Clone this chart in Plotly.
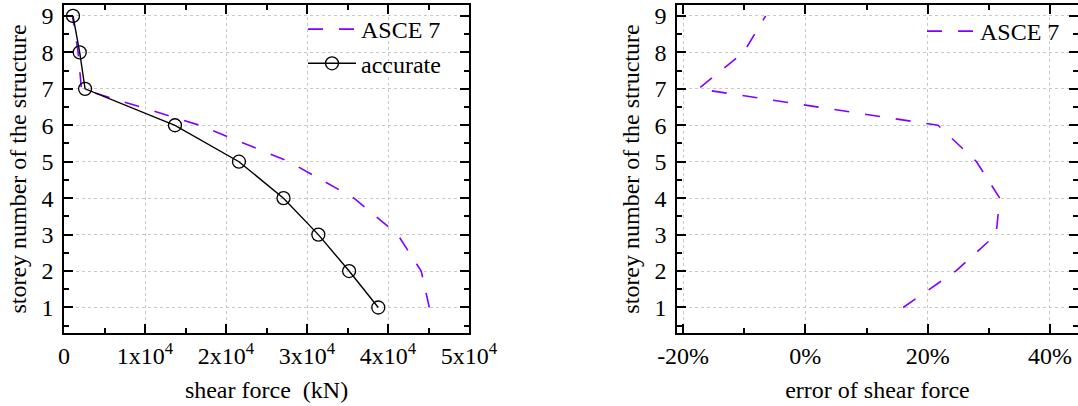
import plotly.graph_objects as go

# ---- data ----
storey = [1, 2, 3, 4, 5, 6, 7, 8, 9]
accurate = [38800, 35200, 31400, 27100, 21600, 13700, 2600, 1940, 1110]
asce7 = [45100, 44100, 41200, 35800, 27800, 16750, 2150, 1745, 1040]
asce7_error = [16.0, 24.6, 31.2, 31.8, 28.0, 21.7, -17.5, -10.1, -6.5]

x1_tickvals = [0, 10000, 20000, 30000, 40000, 50000]
x1_ticktext = ["0", "1x10<sup>4</sup>", "2x10<sup>4</sup>", "3x10<sup>4</sup>",
               "4x10<sup>4</sup>", "5x10<sup>4</sup>"]
x2_tickvals = [-20, 0, 20, 40]
x2_ticktext = ["-20%", "0%", "20%", "40%"]

FONT = "Liberation Serif, Times New Roman, Times, serif"
PURPLE = "#8000ff"
W, H = 1078, 406

fig = go.Figure()
fig.add_trace(go.Scatter(x=asce7, y=storey, mode="lines", name="ASCE 7",
                         line=dict(color=PURPLE, width=1.6, dash="15px,16px"),
                         xaxis="x", yaxis="y", legend="legend"))
fig.add_trace(go.Scatter(x=accurate, y=storey, mode="lines+markers", name="accurate",
                         line=dict(color="black", width=1.4),
                         marker=dict(symbol="circle-open", size=13, color="black",
                                     line=dict(width=1.3, color="black")),
                         xaxis="x", yaxis="y", legend="legend"))
fig.add_trace(go.Scatter(x=asce7_error, y=storey, mode="lines", name="ASCE 7",
                         line=dict(color=PURPLE, width=1.6, dash="15px,16px"),
                         xaxis="x2", yaxis="y2", legend="legend2"))

axis_common = dict(showline=True, linecolor="black", linewidth=1.6, mirror="allticks",
                   ticks="inside", ticklen=9, tickwidth=1.5, tickcolor="black",
                   showgrid=True, gridcolor="#c8c8c8", griddash="3px,3px", gridwidth=1,
                   zeroline=False, automargin=False,
                   tickfont=dict(family=FONT, size=24, color="black"),
                   title_font=dict(family=FONT, size=24, color="black"))
minor_common = dict(ticks="inside", ticklen=5, tickwidth=1.5, tickcolor="black", showgrid=False)

ytop = 1 - 5 / H
ybot = 1 - 333 / H

fig.update_layout(
    template="none",
    width=W, height=H, margin=dict(l=0, r=0, t=0, b=0, pad=0, autoexpand=False),
    paper_bgcolor="white", plot_bgcolor="white",
    font=dict(family=FONT, size=24, color="black"),
    xaxis=dict(axis_common, domain=[64 / W, 469 / W], range=[0, 50000],
               tickmode="array", tickvals=x1_tickvals, ticktext=x1_ticktext,
               minor=dict(minor_common, tickmode="linear", tick0=0, dtick=5000),
               title=dict(text="shear force  (kN)", standoff=14), anchor="y"),
    yaxis=dict(axis_common, domain=[ybot, ytop], range=[0.3, 9.3],
               tickmode="linear", tick0=1, dtick=1, ticklabelstandoff=4,
               minor=dict(minor_common, tickmode="linear", tick0=0.5, dtick=0.5),
               title=dict(text="storey number of the structure", standoff=8), anchor="x"),
    xaxis2=dict(axis_common, domain=[677 / W, 1.0], range=[-21, 44.6],
                tickmode="array", tickvals=x2_tickvals, ticktext=x2_ticktext,
                minor=dict(minor_common, tickmode="linear", tick0=-20, dtick=10),
                title=dict(text="error of shear force", standoff=14), anchor="y2"),
    yaxis2=dict(axis_common, domain=[ybot, ytop], range=[0.3, 9.3],
                tickmode="linear", tick0=1, dtick=1, ticklabelstandoff=4,
                minor=dict(minor_common, tickmode="linear", tick0=0.5, dtick=0.5),
                title=dict(text="storey number of the structure", standoff=8), anchor="x2"),
    legend=dict(x=303 / W, y=1 - 7 / H, xanchor="left", yanchor="top",
                bgcolor="rgba(0,0,0,0)", borderwidth=0, itemwidth=48,
                font=dict(family=FONT, size=24, color="black")),
    legend2=dict(x=922 / W, y=1 - 9 / H, xanchor="left", yanchor="top",
                 bgcolor="rgba(0,0,0,0)", borderwidth=0, itemwidth=48,
                 font=dict(family=FONT, size=24, color="black")),
    showlegend=True,
)

fig.write_html("out.html")
